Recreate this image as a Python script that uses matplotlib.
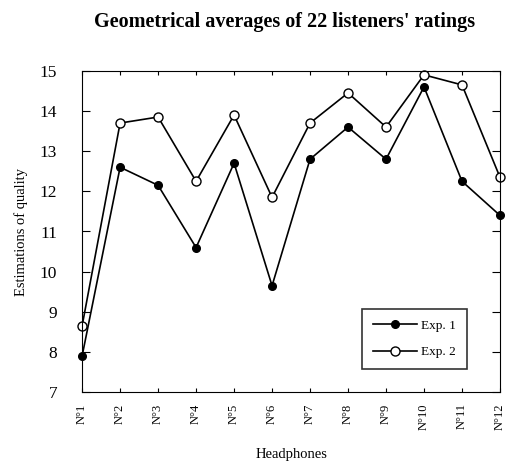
import matplotlib.pyplot as plt
import numpy as np

headphones = ["N°1", "N°2", "N°3", "N°4", "N°5", "N°6",
              "N°7", "N°8", "N°9", "N°10", "N°11", "N°12"]
exp1 = [7.9, 12.6, 12.15, 10.6, 12.7, 9.65, 12.8, 13.6, 12.8, 14.6, 12.25, 11.4]
exp2 = [8.65, 13.7, 13.85, 12.25, 13.9, 11.85, 13.7, 14.45, 13.6, 14.9, 14.65, 12.35]

plt.rcParams['font.family'] = ['Liberation Serif', 'DejaVu Serif']

fig = plt.figure(figsize=(5.23, 4.63), dpi=100)
ax = fig.add_axes([0.157, 0.153, 0.799, 0.694])

x = np.arange(1, len(headphones) + 1)
ax.plot(x, exp1, '-o', color='black', lw=1.2, ms=5.5, mfc='black', label='Exp. 1', clip_on=False)
ax.plot(x, exp2, '-o', color='black', lw=1.2, ms=6.5, mfc='white', label='Exp. 2', clip_on=False)

ax.set_xlim(1, 12)
ax.set_ylim(7, 15)
ax.set_xticks(x)
ax.set_xticklabels(headphones, rotation=90, fontsize=9)
ax.set_yticks(range(7, 16))
ax.tick_params(axis='y', labelsize=12.5, direction='in', right=True, length=6, pad=18)
ax.tick_params(axis='x', direction='in', top=True, length=3, pad=8)

ax.set_ylabel("Estimations of quality", fontsize=10.5)
ax.yaxis.set_label_coords(-0.13, 0.5)
ax.set_xlabel("Headphones", fontsize=10.5)
ax.xaxis.set_label_coords(0.5, -0.175)
fig.text(0.545, 0.952, "Geometrical averages of 22 listeners' ratings",
         ha='center', va='center', fontsize=14.5, weight='semibold')

leg = ax.legend(loc='lower right', bbox_to_anchor=(0.93, 0.06), fontsize=9.5,
                frameon=True, fancybox=False, edgecolor='black', handlelength=3.4,
                labelspacing=1.1, borderpad=0.8, handletextpad=0.3, borderaxespad=0.3)
leg.get_frame().set_linewidth(1.2)

fig.savefig("out.png", dpi=100)
